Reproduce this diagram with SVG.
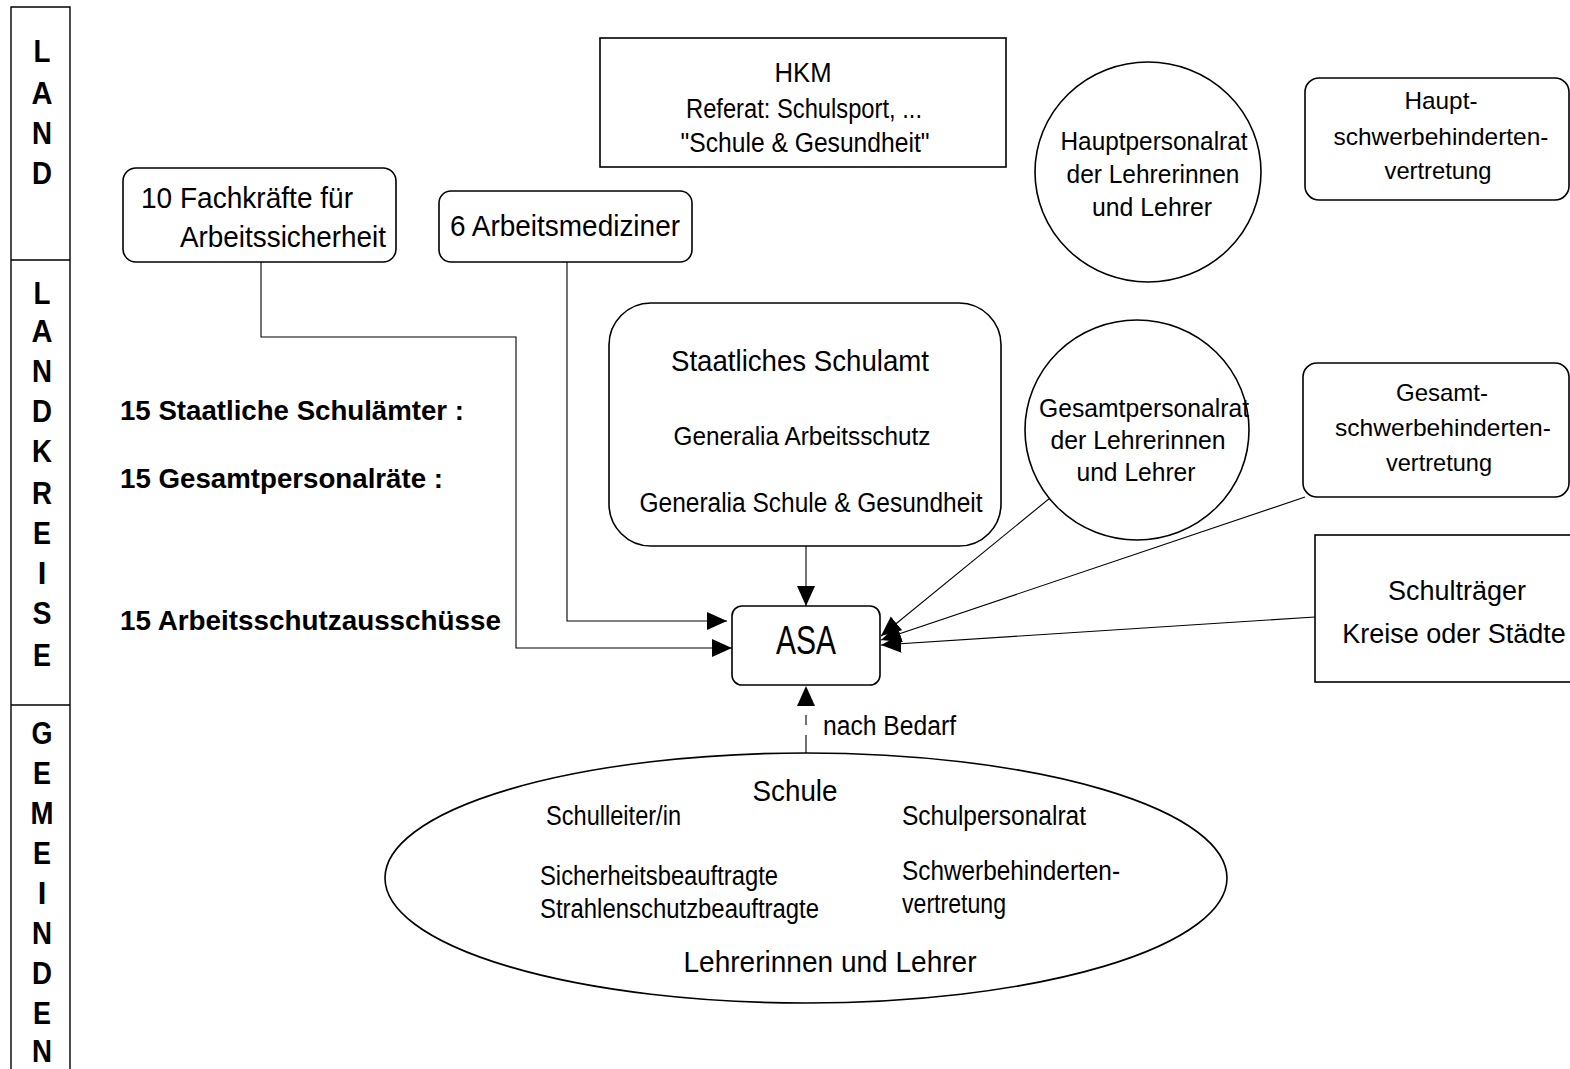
<svg xmlns="http://www.w3.org/2000/svg" width="1570" height="1069" viewBox="0 0 1570 1069">
<defs>
<marker id="arr" markerUnits="userSpaceOnUse" markerWidth="22" markerHeight="20" refX="20" refY="9" orient="auto">
<path d="M0,0 L20,9 L0,18 z" fill="#000"/>
</marker>
<style>
.box{fill:#fff;stroke:#000;stroke-width:1.6}
.ln{fill:none;stroke:#000;stroke-width:1.1}
text{font-family:"Liberation Sans",Arial,sans-serif;fill:#000}
.c{text-anchor:middle}
.b{font-weight:bold}
.col{font-weight:bold;font-size:31px;text-anchor:middle}
</style>
</defs>
<rect width="1570" height="1069" fill="#fff"/>

<g id="sidebar">
<path class="ln" d="M11,1069 V7 H70 V1069 M11,260 H70 M11,705 H70" style="stroke-width:1.4"/>
<text class="col" x="42" y="62" textLength="17" lengthAdjust="spacingAndGlyphs">L</text>
<text class="col" x="42" y="104" textLength="21" lengthAdjust="spacingAndGlyphs">A</text>
<text class="col" x="42" y="144" textLength="20" lengthAdjust="spacingAndGlyphs">N</text>
<text class="col" x="42" y="184" textLength="20" lengthAdjust="spacingAndGlyphs">D</text>
<text class="col" x="42" y="304" textLength="17" lengthAdjust="spacingAndGlyphs">L</text>
<text class="col" x="42" y="342" textLength="21" lengthAdjust="spacingAndGlyphs">A</text>
<text class="col" x="42" y="382" textLength="20" lengthAdjust="spacingAndGlyphs">N</text>
<text class="col" x="42" y="422" textLength="20" lengthAdjust="spacingAndGlyphs">D</text>
<text class="col" x="42" y="462" textLength="20" lengthAdjust="spacingAndGlyphs">K</text>
<text class="col" x="42" y="504" textLength="20" lengthAdjust="spacingAndGlyphs">R</text>
<text class="col" x="42" y="544" textLength="18" lengthAdjust="spacingAndGlyphs">E</text>
<text class="col" x="42" y="584">I</text>
<text class="col" x="42" y="624" textLength="19" lengthAdjust="spacingAndGlyphs">S</text>
<text class="col" x="42" y="666" textLength="18" lengthAdjust="spacingAndGlyphs">E</text>
<text class="col" x="42" y="744" textLength="21" lengthAdjust="spacingAndGlyphs">G</text>
<text class="col" x="42" y="784" textLength="18" lengthAdjust="spacingAndGlyphs">E</text>
<text class="col" x="42" y="824" textLength="23" lengthAdjust="spacingAndGlyphs">M</text>
<text class="col" x="42" y="864" textLength="18" lengthAdjust="spacingAndGlyphs">E</text>
<text class="col" x="42" y="904">I</text>
<text class="col" x="42" y="944" textLength="20" lengthAdjust="spacingAndGlyphs">N</text>
<text class="col" x="42" y="984" textLength="20" lengthAdjust="spacingAndGlyphs">D</text>
<text class="col" x="42" y="1024" textLength="18" lengthAdjust="spacingAndGlyphs">E</text>
<text class="col" x="42" y="1062" textLength="20" lengthAdjust="spacingAndGlyphs">N</text>
</g>

<g id="labels">
<text class="b" x="120" y="420" font-size="28" textLength="344" lengthAdjust="spacingAndGlyphs">15 Staatliche Schulämter :</text>
<text class="b" x="120" y="488" font-size="28" textLength="323" lengthAdjust="spacingAndGlyphs">15 Gesamtpersonalräte :</text>
<text class="b" x="120" y="630" font-size="28" textLength="381" lengthAdjust="spacingAndGlyphs">15 Arbeitsschutzausschüsse</text>
</g>

<g id="connectors">
<path class="ln" d="M261,262 V337 H516 V648 H732" marker-end="url(#arr)"/>
<path class="ln" d="M567,262 V621 H727" marker-end="url(#arr)"/>
<path class="ln" d="M806,546 V606" marker-end="url(#arr)"/>
<path class="ln" d="M1050,498 L881,636" marker-end="url(#arr)"/>
<path class="ln" d="M1305,497 L881,640" marker-end="url(#arr)"/>
<path class="ln" d="M1315,617 L881,645" marker-end="url(#arr)"/>
<path class="ln" d="M806,753 V686" stroke-dasharray="18,10,10,39" marker-end="url(#arr)"/>
<text x="823" y="735" font-size="27" textLength="133" lengthAdjust="spacingAndGlyphs">nach Bedarf</text>
</g>

<g id="hkm">
<rect class="box" x="600" y="38" width="406" height="129"/>
<text class="c" x="803" y="82" font-size="28" textLength="57" lengthAdjust="spacingAndGlyphs">HKM</text>
<text class="c" x="804" y="118" font-size="27" textLength="236" lengthAdjust="spacingAndGlyphs">Referat: Schulsport, ...</text>
<text class="c" x="805" y="152" font-size="27" textLength="249" lengthAdjust="spacingAndGlyphs">"Schule &amp; Gesundheit"</text>
</g>

<g id="hauptpersonalrat">
<ellipse class="box" cx="1148" cy="172" rx="113" ry="110"/>
<text class="c" x="1154" y="150" font-size="26" textLength="187" lengthAdjust="spacingAndGlyphs">Hauptpersonalrat</text>
<text class="c" x="1153" y="183" font-size="26" textLength="173" lengthAdjust="spacingAndGlyphs">der Lehrerinnen</text>
<text class="c" x="1152" y="216" font-size="26" textLength="120" lengthAdjust="spacingAndGlyphs">und Lehrer</text>
</g>

<g id="hauptschwb">
<rect class="box" x="1305" y="78" width="264" height="122" rx="14"/>
<text class="c" x="1441" y="109" font-size="24" textLength="73" lengthAdjust="spacingAndGlyphs">Haupt-</text>
<text class="c" x="1441" y="145" font-size="24" textLength="215" lengthAdjust="spacingAndGlyphs">schwerbehinderten-</text>
<text class="c" x="1438" y="179" font-size="24" textLength="107" lengthAdjust="spacingAndGlyphs">vertretung</text>
</g>

<g id="fachkraefte">
<rect class="box" x="123" y="168" width="273" height="94" rx="13"/>
<text x="141" y="208" font-size="30" textLength="212" lengthAdjust="spacingAndGlyphs">10 Fachkräfte für</text>
<text x="180" y="247" font-size="30" textLength="206" lengthAdjust="spacingAndGlyphs">Arbeitssicherheit</text>
</g>

<g id="arbeitsmediziner">
<rect class="box" x="439" y="191" width="253" height="71" rx="12"/>
<text x="450" y="236" font-size="30" textLength="230" lengthAdjust="spacingAndGlyphs">6 Arbeitsmediziner</text>
</g>

<g id="schulamt">
<rect class="box" x="609" y="303" width="392" height="243" rx="42"/>
<text class="c" x="800" y="371" font-size="30" textLength="258" lengthAdjust="spacingAndGlyphs">Staatliches Schulamt</text>
<text class="c" x="802" y="445" font-size="26" textLength="257" lengthAdjust="spacingAndGlyphs">Generalia Arbeitsschutz</text>
<text class="c" x="811" y="512" font-size="27" textLength="343" lengthAdjust="spacingAndGlyphs">Generalia Schule &amp; Gesundheit</text>
</g>

<g id="gesamtpersonalrat">
<ellipse class="box" cx="1137" cy="430" rx="112" ry="110"/>
<text class="c" x="1144" y="417" font-size="25" textLength="210" lengthAdjust="spacingAndGlyphs">Gesamtpersonalrat</text>
<text class="c" x="1138" y="449" font-size="25" textLength="175" lengthAdjust="spacingAndGlyphs">der Lehrerinnen</text>
<text class="c" x="1136" y="481" font-size="25" textLength="119" lengthAdjust="spacingAndGlyphs">und Lehrer</text>
</g>

<g id="gesamtschwb">
<rect class="box" x="1303" y="363" width="266" height="134" rx="14"/>
<text class="c" x="1442" y="401" font-size="24" textLength="92" lengthAdjust="spacingAndGlyphs">Gesamt-</text>
<text class="c" x="1443" y="436" font-size="24" textLength="216" lengthAdjust="spacingAndGlyphs">schwerbehinderten-</text>
<text class="c" x="1439" y="471" font-size="24" textLength="106" lengthAdjust="spacingAndGlyphs">vertretung</text>
</g>

<g id="schultraeger">
<rect class="box" x="1315" y="535" width="270" height="147"/>
<text class="c" x="1457" y="600" font-size="27">Schulträger</text>
<text class="c" x="1454" y="643" font-size="27">Kreise oder Städte</text>
</g>

<g id="asa">
<rect class="box" x="732" y="606" width="148" height="79" rx="10"/>
<text class="c" x="806" y="654" font-size="40" textLength="60" lengthAdjust="spacingAndGlyphs">ASA</text>
</g>

<g id="schule">
<ellipse class="box" cx="806" cy="878" rx="421" ry="125"/>
<text class="c" x="795" y="801" font-size="30" textLength="85" lengthAdjust="spacingAndGlyphs">Schule</text>
<text x="546" y="825" font-size="27" textLength="135" lengthAdjust="spacingAndGlyphs">Schulleiter/in</text>
<text x="902" y="825" font-size="27" textLength="184" lengthAdjust="spacingAndGlyphs">Schulpersonalrat</text>
<text x="540" y="885" font-size="27" textLength="238" lengthAdjust="spacingAndGlyphs">Sicherheitsbeauftragte</text>
<text x="540" y="918" font-size="27" textLength="279" lengthAdjust="spacingAndGlyphs">Strahlenschutzbeauftragte</text>
<text x="902" y="880" font-size="27" textLength="218" lengthAdjust="spacingAndGlyphs">Schwerbehinderten-</text>
<text x="902" y="913" font-size="27" textLength="104" lengthAdjust="spacingAndGlyphs">vertretung</text>
<text class="c" x="830" y="972" font-size="30" textLength="293" lengthAdjust="spacingAndGlyphs">Lehrerinnen und Lehrer</text>
</g>
</svg>
